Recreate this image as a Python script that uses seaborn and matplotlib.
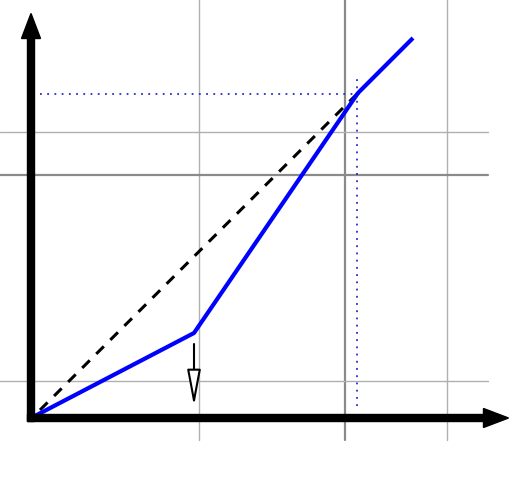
import matplotlib
matplotlib.use("Agg")
import matplotlib.pyplot as plt
import seaborn as sns
import pandas as pd

sns.set_style("white")

# Data (units relative to the origin of the drawn axes)
curve_x = [0, 163, 327, 382]
curve_y = [0, 85, 325, 380]
chord_x = [9, 327]
chord_y = [8, 325]
grid_x_thin = [168, 416]
grid_x_thick = [314]
grid_y_thin = [37, 286]
grid_y_thick = [243]
mark_x = 326
mark_y = 324
drop_x = 163
drop_from = 74
drop_to = 12

fig = plt.figure(figsize=(5.16, 4.92), dpi=100)
ax = fig.add_axes([0, 0, 1, 1])

# grid
for gx in grid_x_thin:
    ax.plot([gx, gx], [-22, 418], color="#b0b0b0", lw=1.0, zorder=1)
for gx in grid_x_thick:
    ax.plot([gx, gx], [-22, 418], color="#8a8a8a", lw=1.6, zorder=1)
for gy in grid_y_thin:
    ax.plot([-31, 457], [gy, gy], color="#b0b0b0", lw=1.0, zorder=1)
for gy in grid_y_thick:
    ax.plot([-31, 457], [gy, gy], color="#8a8a8a", lw=1.6, zorder=1)

# dotted guides
ax.plot([9, mark_x + 4], [mark_y, mark_y], color="#2a2acc", lw=1.3,
        linestyle=(0, (1, 3)), zorder=2)
ax.plot([mark_x, mark_x], [12, 339], color="#2a2acc", lw=1.3,
        linestyle=(0, (1, 3)), zorder=2)

# dashed chord
ax.plot(chord_x, chord_y, color="black", lw=2.2, linestyle=(0, (3.5, 3)), zorder=3)

# blue curve
df = pd.DataFrame({"x": curve_x, "y": curve_y})
sns.lineplot(data=df, x="x", y="y", sort=False, color="#0000ff", lw=3.0, ax=ax,
             zorder=4, solid_capstyle="butt")
ax.set_xlim(-31, 485)
ax.set_ylim(-74, 418)
ax.axis("off")

# axis arrows
ax.arrow(0, -3.5, 0, 408, width=7, head_width=19, head_length=25,
         length_includes_head=True, color="black", zorder=5)
ax.arrow(-3.5, 0, 481, 0, width=7, head_width=19, head_length=25,
         length_includes_head=True, color="black", zorder=5)

# downward open arrow
ax.annotate("", xy=(drop_x, drop_to), xytext=(drop_x, drop_from),
            arrowprops=dict(arrowstyle="-|>,head_length=1.7,head_width=0.32",
                            fc="white", ec="black", lw=1.5, mutation_scale=13,
                            shrinkA=0, shrinkB=0), zorder=5)

fig.savefig("out.png", dpi=100)
